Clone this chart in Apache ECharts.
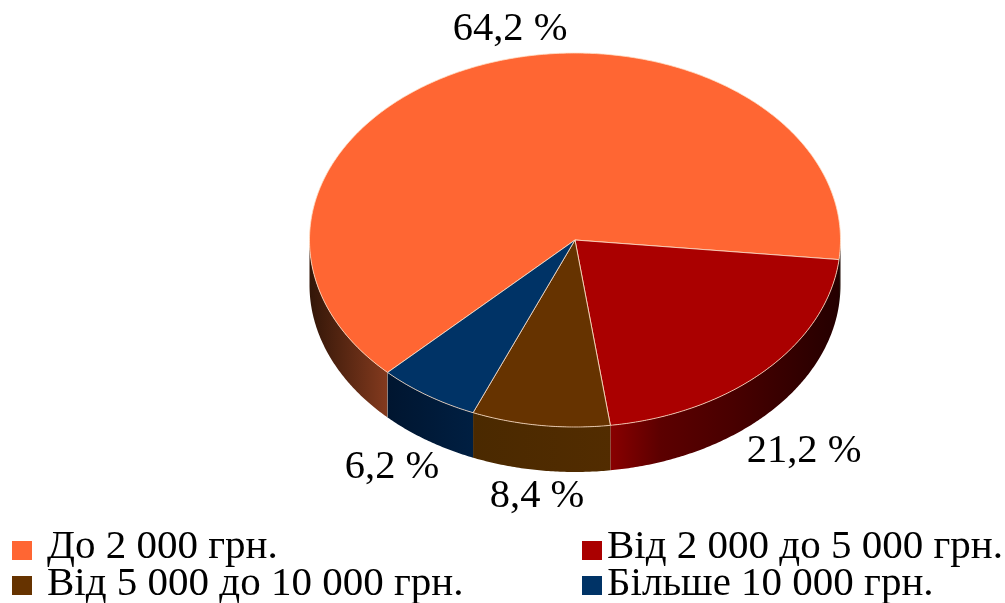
<!DOCTYPE html>
<html>
<head>
<meta charset="utf-8">
<style>
  html, body { margin: 0; padding: 0; background: #fff; }
  #chart { width: 1005px; height: 603px; }
</style>
</head>
<body>
<div id="chart"></div>
<script src="https://cdn.jsdelivr.net/npm/echarts@6/dist/echarts.min.js"></script>
<script>
const categories = ['До 2 000 грн.', 'Від 2 000 до 5 000 грн.', 'Від 5 000 до 10 000 грн.', 'Більше 10 000 грн.'];
const shares = [64.2, 21.2, 8.4, 6.2];
const shareLabels = ['64,2 %', '21,2 %', '8,4 %', '6,2 %'];

const topColors = ['#FF6633', '#AA0000', '#663300', '#003366'];
// side wall shading, offsets run over the full width of the pie
const wallStops = [
  [[0, '#331608'], [0.146, '#833a1e'], [0.9, '#2a0f05'], [1, '#1e0a03']],
  [[0.56, '#8c0000'], [0.66, '#5c0000'], [0.8, '#480000'], [1, '#240000']],
  [[0.3, '#4a2900'], [0.57, '#522c00']],
  [[0.14, '#00152f'], [0.31, '#001f42']]
];

const pie = { cx: 575, cy: 240, rx: 265.5, ry: 187, depth: 45, start: 134.9 };
const labelPos = [[510, 29], [804, 451], [537, 496], [392, 467]];
const edge = 'rgba(255, 225, 200, 0.8)';

function rim(deg, drop) {
  let t = deg * Math.PI / 180;
  return [pie.cx + pie.rx * Math.cos(t), pie.cy + pie.ry * Math.sin(t) + (drop || 0)];
}

function arc(from, to, drop) {
  let pts = [];
  let n = Math.max(2, Math.ceil((to - from) * 2));
  for (let i = 0; i <= n; i++) {
    pts.push(rim(from + (to - from) * i / n, drop));
  }
  return pts;
}

// only the part of the rim facing the viewer has a wall (0-180 and 360-540)
function frontParts(from, to) {
  let parts = [];
  [[0, 180], [360, 540]].forEach(r => {
    let a = Math.max(from, r[0]);
    let b = Math.min(to, r[1]);
    if (b > a) parts.push([a, b]);
  });
  return parts;
}

function sliceRange(idx) {
  let total = shares.reduce((s, v) => s + v, 0);
  let before = shares.slice(0, idx).reduce((s, v) => s + v, 0);
  return [pie.start + before / total * 360, pie.start + (before + shares[idx]) / total * 360];
}

function renderSlice(idx) {
  let range = sliceRange(idx);
  let children = [];
  frontParts(range[0], range[1]).forEach(p => {
    children.push({
      type: 'polygon',
      shape: { points: arc(p[0], p[1], 0).concat(arc(p[0], p[1], pie.depth).reverse()) },
      style: {
        fill: {
          type: 'linear', global: true,
          x: pie.cx - pie.rx, y: 0, x2: pie.cx + pie.rx, y2: 0,
          colorStops: wallStops[idx].map(s => ({ offset: s[0], color: s[1] }))
        }
      }
    });
  });
  // seam between two walls
  if (range[0] > 20 && range[0] < 160) {
    let a = rim(range[0], 0);
    children.push({
      type: 'line',
      shape: { x1: a[0], y1: a[1], x2: a[0], y2: a[1] + pie.depth },
      style: { stroke: edge, lineWidth: 1 }
    });
  }
  children.push({
    type: 'polygon',
    shape: { points: [[pie.cx, pie.cy]].concat(arc(range[0], range[1], 0)) },
    style: { fill: topColors[idx], stroke: edge, lineWidth: 1 }
  });
  children.push({
    type: 'text',
    style: {
      text: shareLabels[idx],
      x: labelPos[idx][0], y: labelPos[idx][1],
      font: '40.5px "Liberation Serif"',
      fill: '#000', align: 'center', verticalAlign: 'middle'
    }
  });
  return { type: 'group', children: children };
}

const legendPos = [[12, 527], [582, 527], [12, 564], [582, 564]];
const legendGap = [10, 0, 10, 0];
const legendLift = [6, 6, 2, 2];

const chart = echarts.init(document.getElementById('chart'));
chart.setOption({
  backgroundColor: '#fff',
  animation: false,
  legend: categories.map((name, i) => ({
    data: [name],
    left: legendPos[i][0],
    top: legendPos[i][1],
    padding: 0,
    icon: 'rect',
    itemWidth: 20,
    itemHeight: 19,
    selectedMode: false,
    formatter: '{a|{name}}',
    textStyle: {
      rich: {
        a: {
          fontFamily: 'Liberation Serif',
          fontSize: 41,
          color: '#000',
          padding: [0, 0, legendLift[i], legendGap[i]]
        }
      }
    }
  })),
  series: categories.map((name, i) => ({
    name: name,
    type: 'custom',
    coordinateSystem: 'none',
    silent: true,
    itemStyle: { color: topColors[i] },
    data: [shares[i]],
    renderItem: () => renderSlice(i)
  }))
});
</script>
</body>
</html>
